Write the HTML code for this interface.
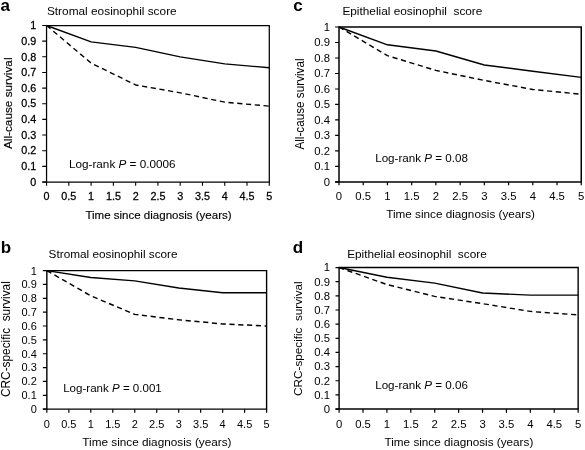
<!DOCTYPE html>
<html><head><meta charset="utf-8"><title>Figure</title>
<style>
html,body{margin:0;padding:0;background:#fff;}
svg{display:block}
text{font-family:'Liberation Sans', Arial, Helvetica, sans-serif;fill:#000;}
</style></head>
<body>
<svg width="585" height="450" viewBox="0 0 585 450">
<rect width="585" height="450" fill="#fff"/>
<path d="M46.55 182.00V25.50H269.30V182.00" fill="none" stroke="#000" stroke-width="1.25"/>
<path d="M42.25 182.00H269.80" fill="none" stroke="#000" stroke-width="1.25"/>
<path d="M42.25 182.00H46.55M42.25 166.35H46.55M42.25 150.70H46.55M42.25 135.05H46.55M42.25 119.40H46.55M42.25 103.75H46.55M42.25 88.10H46.55M42.25 72.45H46.55M42.25 56.80H46.55M42.25 41.15H46.55M42.25 25.50H46.55M46.55 182.00V185.70M68.82 182.00V185.70M91.10 182.00V185.70M113.38 182.00V185.70M135.65 182.00V185.70M157.93 182.00V185.70M180.20 182.00V185.70M202.48 182.00V185.70M224.75 182.00V185.70M247.02 182.00V185.70M269.30 182.00V185.70" fill="none" stroke="#000" stroke-width="1.1"/>
<text transform="translate(36.20 185.70) scale(1.08 1)" text-anchor="end" font-size="10" stroke="#000" stroke-width="0.25">0</text>
<text transform="translate(36.20 170.05) scale(1.08 1)" text-anchor="end" font-size="10" stroke="#000" stroke-width="0.25">0.1</text>
<text transform="translate(36.20 154.40) scale(1.08 1)" text-anchor="end" font-size="10" stroke="#000" stroke-width="0.25">0.2</text>
<text transform="translate(36.20 138.75) scale(1.08 1)" text-anchor="end" font-size="10" stroke="#000" stroke-width="0.25">0.3</text>
<text transform="translate(36.20 123.10) scale(1.08 1)" text-anchor="end" font-size="10" stroke="#000" stroke-width="0.25">0.4</text>
<text transform="translate(36.20 107.45) scale(1.08 1)" text-anchor="end" font-size="10" stroke="#000" stroke-width="0.25">0.5</text>
<text transform="translate(36.20 91.80) scale(1.08 1)" text-anchor="end" font-size="10" stroke="#000" stroke-width="0.25">0.6</text>
<text transform="translate(36.20 76.15) scale(1.08 1)" text-anchor="end" font-size="10" stroke="#000" stroke-width="0.25">0.7</text>
<text transform="translate(36.20 60.50) scale(1.08 1)" text-anchor="end" font-size="10" stroke="#000" stroke-width="0.25">0.8</text>
<text transform="translate(36.20 44.85) scale(1.08 1)" text-anchor="end" font-size="10" stroke="#000" stroke-width="0.25">0.9</text>
<text transform="translate(36.20 29.20) scale(1.08 1)" text-anchor="end" font-size="10" stroke="#000" stroke-width="0.25">1</text>
<text transform="translate(46.55 200.00) scale(1.08 1)" text-anchor="middle" font-size="10" stroke="#000" stroke-width="0.25">0</text>
<text transform="translate(68.82 200.00) scale(1.08 1)" text-anchor="middle" font-size="10" stroke="#000" stroke-width="0.25">0.5</text>
<text transform="translate(91.10 200.00) scale(1.08 1)" text-anchor="middle" font-size="10" stroke="#000" stroke-width="0.25">1</text>
<text transform="translate(113.38 200.00) scale(1.08 1)" text-anchor="middle" font-size="10" stroke="#000" stroke-width="0.25">1.5</text>
<text transform="translate(135.65 200.00) scale(1.08 1)" text-anchor="middle" font-size="10" stroke="#000" stroke-width="0.25">2</text>
<text transform="translate(157.93 200.00) scale(1.08 1)" text-anchor="middle" font-size="10" stroke="#000" stroke-width="0.25">2.5</text>
<text transform="translate(180.20 200.00) scale(1.08 1)" text-anchor="middle" font-size="10" stroke="#000" stroke-width="0.25">3</text>
<text transform="translate(202.48 200.00) scale(1.08 1)" text-anchor="middle" font-size="10" stroke="#000" stroke-width="0.25">3.5</text>
<text transform="translate(224.75 200.00) scale(1.08 1)" text-anchor="middle" font-size="10" stroke="#000" stroke-width="0.25">4</text>
<text transform="translate(247.02 200.00) scale(1.08 1)" text-anchor="middle" font-size="10" stroke="#000" stroke-width="0.25">4.5</text>
<text transform="translate(269.30 200.00) scale(1.08 1)" text-anchor="middle" font-size="10" stroke="#000" stroke-width="0.25">5</text>
<path d="M46.55 25.50 L91.10 41.93 L135.65 47.41 L180.20 56.80 L224.75 63.84 L269.30 67.76" fill="none" stroke="#000" stroke-width="1.35" stroke-linejoin="round"/>
<path d="M46.55 25.50 L91.10 63.06 L135.65 84.97 L180.20 92.80 L224.75 102.19 L269.30 106.10" fill="none" stroke="#000" stroke-width="1.35" stroke-dasharray="5.2 3.6" stroke-linejoin="round"/>
<text x="0.6" y="10.6" font-size="17" font-weight="bold">a</text>
<text x="46.9" y="14.8" font-size="11.8" textLength="129.8" lengthAdjust="spacingAndGlyphs">Stromal eosinophil score</text>
<text x="69.0" y="167.9" font-size="11.6" textLength="106.5" lengthAdjust="spacingAndGlyphs">Log-rank <tspan font-style="italic">P</tspan> = 0.0006</text>
<text x="85.4" y="218.5" font-size="11.5" textLength="146.2" lengthAdjust="spacingAndGlyphs" stroke="#000" stroke-width="0.15">Time since diagnosis (years)</text>
<text transform="translate(12.0 149.0) rotate(-90) scale(1 1.06)" font-size="11" textLength="91.5" lengthAdjust="spacingAndGlyphs" stroke="#000" stroke-width="0.15">All-cause survival</text>
<path d="M46.85 409.15V270.60H266.60V409.15" fill="none" stroke="#000" stroke-width="1.4"/>
<path d="M42.85 409.15H267.10" fill="none" stroke="#000" stroke-width="1.4"/>
<path d="M42.85 409.15H46.85M42.85 395.29H46.85M42.85 381.44H46.85M42.85 367.58H46.85M42.85 353.73H46.85M42.85 339.88H46.85M42.85 326.02H46.85M42.85 312.17H46.85M42.85 298.31H46.85M42.85 284.46H46.85M42.85 270.60H46.85M46.85 409.15V412.75M68.83 409.15V412.75M90.80 409.15V412.75M112.78 409.15V412.75M134.75 409.15V412.75M156.73 409.15V412.75M178.70 409.15V412.75M200.68 409.15V412.75M222.65 409.15V412.75M244.63 409.15V412.75M266.60 409.15V412.75" fill="none" stroke="#000" stroke-width="1.2"/>
<text transform="translate(36.80 413.05) scale(1.1 1)" text-anchor="end" font-size="10">0</text>
<text transform="translate(36.80 399.19) scale(1.1 1)" text-anchor="end" font-size="10">0.1</text>
<text transform="translate(36.80 385.34) scale(1.1 1)" text-anchor="end" font-size="10">0.2</text>
<text transform="translate(36.80 371.48) scale(1.1 1)" text-anchor="end" font-size="10">0.3</text>
<text transform="translate(36.80 357.63) scale(1.1 1)" text-anchor="end" font-size="10">0.4</text>
<text transform="translate(36.80 343.77) scale(1.1 1)" text-anchor="end" font-size="10">0.5</text>
<text transform="translate(36.80 329.92) scale(1.1 1)" text-anchor="end" font-size="10">0.6</text>
<text transform="translate(36.80 316.06) scale(1.1 1)" text-anchor="end" font-size="10">0.7</text>
<text transform="translate(36.80 302.21) scale(1.1 1)" text-anchor="end" font-size="10">0.8</text>
<text transform="translate(36.80 288.36) scale(1.1 1)" text-anchor="end" font-size="10">0.9</text>
<text transform="translate(36.80 274.50) scale(1.1 1)" text-anchor="end" font-size="10">1</text>
<text transform="translate(46.85 427.70) scale(1.1 1)" text-anchor="middle" font-size="10">0</text>
<text transform="translate(68.83 427.70) scale(1.1 1)" text-anchor="middle" font-size="10">0.5</text>
<text transform="translate(90.80 427.70) scale(1.1 1)" text-anchor="middle" font-size="10">1</text>
<text transform="translate(112.78 427.70) scale(1.1 1)" text-anchor="middle" font-size="10">1.5</text>
<text transform="translate(134.75 427.70) scale(1.1 1)" text-anchor="middle" font-size="10">2</text>
<text transform="translate(156.73 427.70) scale(1.1 1)" text-anchor="middle" font-size="10">2.5</text>
<text transform="translate(178.70 427.70) scale(1.1 1)" text-anchor="middle" font-size="10">3</text>
<text transform="translate(200.68 427.70) scale(1.1 1)" text-anchor="middle" font-size="10">3.5</text>
<text transform="translate(222.65 427.70) scale(1.1 1)" text-anchor="middle" font-size="10">4</text>
<text transform="translate(244.63 427.70) scale(1.1 1)" text-anchor="middle" font-size="10">4.5</text>
<text transform="translate(266.60 427.70) scale(1.1 1)" text-anchor="middle" font-size="10">5</text>
<path d="M46.85 270.60 L90.80 277.53 L134.75 280.85 L178.70 287.92 L222.65 292.77 L266.60 292.77" fill="none" stroke="#000" stroke-width="1.45" stroke-linejoin="round"/>
<path d="M46.85 270.60 L90.80 295.82 L134.75 314.38 L178.70 319.79 L222.65 323.94 L266.60 326.02" fill="none" stroke="#000" stroke-width="1.45" stroke-dasharray="5.2 3.6" stroke-linejoin="round"/>
<text x="0.8" y="252.9" font-size="17" font-weight="bold">b</text>
<text x="48.6" y="257.6" font-size="11.7" textLength="129" lengthAdjust="spacingAndGlyphs">Stromal eosinophil score</text>
<text x="63.2" y="391.8" font-size="11.6" textLength="98.6" lengthAdjust="spacingAndGlyphs">Log-rank <tspan font-style="italic">P</tspan> = 0.001</text>
<text x="82.3" y="446.2" font-size="11.7" textLength="149.2" lengthAdjust="spacingAndGlyphs">Time since diagnosis (years)</text>
<text transform="translate(10.0 397.0) rotate(-90) scale(1 1.08)" font-size="11.7" textLength="115.8" lengthAdjust="spacingAndGlyphs">CRC-specific&#160;&#160;survival</text>
<path d="M339.00 181.95V27.00H581.25V181.95" fill="none" stroke="#000" stroke-width="1.5"/>
<path d="M335.10 181.95H581.75" fill="none" stroke="#000" stroke-width="1.5"/>
<path d="M335.10 181.95H339.00M335.10 166.45H339.00M335.10 150.96H339.00M335.10 135.47H339.00M335.10 119.97H339.00M335.10 104.47H339.00M335.10 88.98H339.00M335.10 73.48H339.00M335.10 57.99H339.00M335.10 42.50H339.00M335.10 27.00H339.00M339.00 181.95V185.35M363.23 181.95V185.35M387.45 181.95V185.35M411.68 181.95V185.35M435.90 181.95V185.35M460.12 181.95V185.35M484.35 181.95V185.35M508.57 181.95V185.35M532.80 181.95V185.35M557.02 181.95V185.35M581.25 181.95V185.35" fill="none" stroke="#000" stroke-width="1.2"/>
<text transform="translate(330.00 185.75) scale(1.1 1)" text-anchor="end" font-size="10.3">0</text>
<text transform="translate(330.00 170.25) scale(1.1 1)" text-anchor="end" font-size="10.3">0.1</text>
<text transform="translate(330.00 154.76) scale(1.1 1)" text-anchor="end" font-size="10.3">0.2</text>
<text transform="translate(330.00 139.27) scale(1.1 1)" text-anchor="end" font-size="10.3">0.3</text>
<text transform="translate(330.00 123.77) scale(1.1 1)" text-anchor="end" font-size="10.3">0.4</text>
<text transform="translate(330.00 108.27) scale(1.1 1)" text-anchor="end" font-size="10.3">0.5</text>
<text transform="translate(330.00 92.78) scale(1.1 1)" text-anchor="end" font-size="10.3">0.6</text>
<text transform="translate(330.00 77.28) scale(1.1 1)" text-anchor="end" font-size="10.3">0.7</text>
<text transform="translate(330.00 61.79) scale(1.1 1)" text-anchor="end" font-size="10.3">0.8</text>
<text transform="translate(330.00 46.30) scale(1.1 1)" text-anchor="end" font-size="10.3">0.9</text>
<text transform="translate(330.00 30.80) scale(1.1 1)" text-anchor="end" font-size="10.3">1</text>
<text transform="translate(339.00 199.80) scale(1.1 1)" text-anchor="middle" font-size="10.3">0</text>
<text transform="translate(363.23 199.80) scale(1.1 1)" text-anchor="middle" font-size="10.3">0.5</text>
<text transform="translate(387.45 199.80) scale(1.1 1)" text-anchor="middle" font-size="10.3">1</text>
<text transform="translate(411.68 199.80) scale(1.1 1)" text-anchor="middle" font-size="10.3">1.5</text>
<text transform="translate(435.90 199.80) scale(1.1 1)" text-anchor="middle" font-size="10.3">2</text>
<text transform="translate(460.12 199.80) scale(1.1 1)" text-anchor="middle" font-size="10.3">2.5</text>
<text transform="translate(484.35 199.80) scale(1.1 1)" text-anchor="middle" font-size="10.3">3</text>
<text transform="translate(508.57 199.80) scale(1.1 1)" text-anchor="middle" font-size="10.3">3.5</text>
<text transform="translate(532.80 199.80) scale(1.1 1)" text-anchor="middle" font-size="10.3">4</text>
<text transform="translate(557.02 199.80) scale(1.1 1)" text-anchor="middle" font-size="10.3">4.5</text>
<text transform="translate(581.25 199.80) scale(1.1 1)" text-anchor="middle" font-size="10.3">5</text>
<path d="M339.00 27.00 L387.45 44.82 L435.90 51.02 L484.35 64.96 L532.80 71.16 L581.25 77.36" fill="none" stroke="#000" stroke-width="1.45" stroke-linejoin="round"/>
<path d="M339.00 27.00 L387.45 55.67 L435.90 70.39 L484.35 80.46 L532.80 89.44 L581.25 94.25" fill="none" stroke="#000" stroke-width="1.45" stroke-dasharray="5.2 3.6" stroke-linejoin="round"/>
<text x="293.2" y="10.8" font-size="17" font-weight="bold">c</text>
<text x="342.4" y="14.6" font-size="11.7" textLength="140" lengthAdjust="spacingAndGlyphs">Epithelial eosinophil&#160;&#160;score</text>
<text x="375.2" y="161.5" font-size="11.7" textLength="92.8" lengthAdjust="spacingAndGlyphs">Log-rank <tspan font-style="italic">P</tspan> = 0.08</text>
<text x="386.2" y="218.4" font-size="11.7" textLength="148.8" lengthAdjust="spacingAndGlyphs">Time since diagnosis (years)</text>
<text transform="translate(304.4 149.6) rotate(-90) scale(1 1.05)" font-size="11.7" textLength="91.2" lengthAdjust="spacingAndGlyphs">All-cause survival</text>
<path d="M339.10 409.05V267.55H578.15V409.05" fill="none" stroke="#000" stroke-width="1.4"/>
<path d="M335.50 409.05H578.65" fill="none" stroke="#000" stroke-width="1.4"/>
<path d="M335.50 409.05H339.10M335.50 394.90H339.10M335.50 380.75H339.10M335.50 366.60H339.10M335.50 352.45H339.10M335.50 338.30H339.10M335.50 324.15H339.10M335.50 310.00H339.10M335.50 295.85H339.10M335.50 281.70H339.10M335.50 267.55H339.10M339.10 409.05V412.65M363.00 409.05V412.65M386.91 409.05V412.65M410.81 409.05V412.65M434.72 409.05V412.65M458.62 409.05V412.65M482.53 409.05V412.65M506.44 409.05V412.65M530.34 409.05V412.65M554.25 409.05V412.65M578.15 409.05V412.65" fill="none" stroke="#000" stroke-width="1.2"/>
<text transform="translate(330.00 412.85) scale(1.1 1)" text-anchor="end" font-size="10.3">0</text>
<text transform="translate(330.00 398.70) scale(1.1 1)" text-anchor="end" font-size="10.3">0.1</text>
<text transform="translate(330.00 384.55) scale(1.1 1)" text-anchor="end" font-size="10.3">0.2</text>
<text transform="translate(330.00 370.40) scale(1.1 1)" text-anchor="end" font-size="10.3">0.3</text>
<text transform="translate(330.00 356.25) scale(1.1 1)" text-anchor="end" font-size="10.3">0.4</text>
<text transform="translate(330.00 342.10) scale(1.1 1)" text-anchor="end" font-size="10.3">0.5</text>
<text transform="translate(330.00 327.95) scale(1.1 1)" text-anchor="end" font-size="10.3">0.6</text>
<text transform="translate(330.00 313.80) scale(1.1 1)" text-anchor="end" font-size="10.3">0.7</text>
<text transform="translate(330.00 299.65) scale(1.1 1)" text-anchor="end" font-size="10.3">0.8</text>
<text transform="translate(330.00 285.50) scale(1.1 1)" text-anchor="end" font-size="10.3">0.9</text>
<text transform="translate(330.00 271.35) scale(1.1 1)" text-anchor="end" font-size="10.3">1</text>
<text transform="translate(339.10 427.80) scale(1.1 1)" text-anchor="middle" font-size="10.3">0</text>
<text transform="translate(363.00 427.80) scale(1.1 1)" text-anchor="middle" font-size="10.3">0.5</text>
<text transform="translate(386.91 427.80) scale(1.1 1)" text-anchor="middle" font-size="10.3">1</text>
<text transform="translate(410.81 427.80) scale(1.1 1)" text-anchor="middle" font-size="10.3">1.5</text>
<text transform="translate(434.72 427.80) scale(1.1 1)" text-anchor="middle" font-size="10.3">2</text>
<text transform="translate(458.62 427.80) scale(1.1 1)" text-anchor="middle" font-size="10.3">2.5</text>
<text transform="translate(482.53 427.80) scale(1.1 1)" text-anchor="middle" font-size="10.3">3</text>
<text transform="translate(506.44 427.80) scale(1.1 1)" text-anchor="middle" font-size="10.3">3.5</text>
<text transform="translate(530.34 427.80) scale(1.1 1)" text-anchor="middle" font-size="10.3">4</text>
<text transform="translate(554.25 427.80) scale(1.1 1)" text-anchor="middle" font-size="10.3">4.5</text>
<text transform="translate(578.15 427.80) scale(1.1 1)" text-anchor="middle" font-size="10.3">5</text>
<path d="M339.10 267.55 L386.91 277.31 L434.72 283.12 L482.53 293.02 L530.34 295.14 L578.15 295.14" fill="none" stroke="#000" stroke-width="1.4" stroke-linejoin="round"/>
<path d="M339.10 267.55 L386.91 284.53 L434.72 296.42 L482.53 303.63 L530.34 311.42 L578.15 314.95" fill="none" stroke="#000" stroke-width="1.4" stroke-dasharray="5.2 3.6" stroke-linejoin="round"/>
<text x="292.8" y="252.9" font-size="17" font-weight="bold">d</text>
<text x="347.2" y="257.6" font-size="11.7" textLength="139.5" lengthAdjust="spacingAndGlyphs">Epithelial eosinophil&#160;&#160;score</text>
<text x="375.2" y="389.0" font-size="11.7" textLength="92.8" lengthAdjust="spacingAndGlyphs">Log-rank <tspan font-style="italic">P</tspan> = 0.06</text>
<text x="384.5" y="446.0" font-size="11.7" textLength="148.8" lengthAdjust="spacingAndGlyphs">Time since diagnosis (years)</text>
<text transform="translate(302.3 395.9) rotate(-90) scale(1 1.0)" font-size="11.7" textLength="114.6" lengthAdjust="spacingAndGlyphs">CRC-specific&#160;&#160;survival</text>
</svg>
</body></html>
